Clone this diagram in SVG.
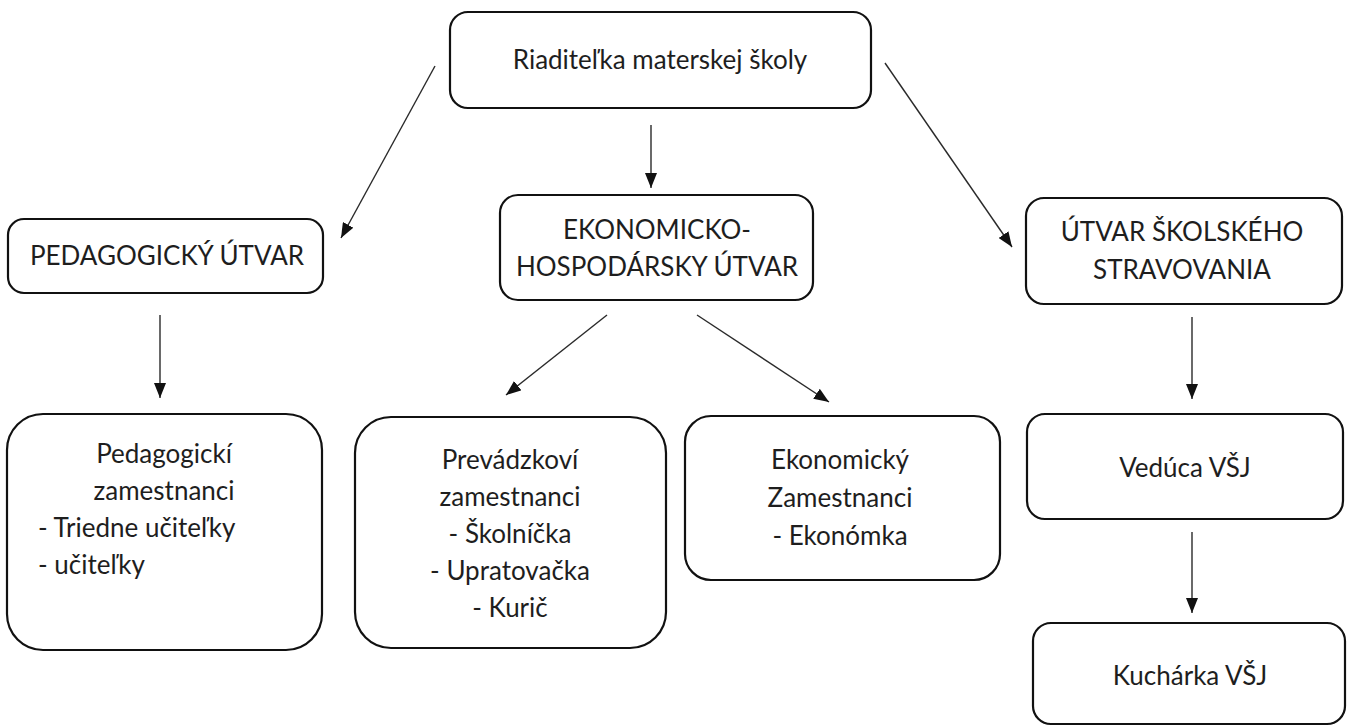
<svg xmlns="http://www.w3.org/2000/svg" width="1353" height="727" viewBox="0 0 1353 727">
<style>
.box{fill:#fff;stroke:#111;stroke-width:2.2}
.t{font-family:Lato,"Liberation Sans",sans-serif;font-size:26px;fill:#1e1e1e}
.m{text-anchor:middle}
.c{stroke:#2a2a2a;stroke-width:1.4;fill:none;marker-end:url(#ah)}
</style>
<defs>
<marker id="ah" markerUnits="userSpaceOnUse" markerWidth="16" markerHeight="12" refX="15" refY="6" orient="auto">
<path d="M0,0 L15,6 L0,12 Z" fill="#111"/>
</marker>
</defs>
<rect width="1353" height="727" fill="#fff"/>
<g id="connectors">
<line class="c" x1="651" y1="125" x2="651" y2="188"/>
<line class="c" x1="435" y1="66" x2="341" y2="238"/>
<line class="c" x1="885" y1="63" x2="1012" y2="247"/>
<line class="c" x1="160" y1="315" x2="160" y2="398"/>
<line class="c" x1="607" y1="315" x2="506" y2="395"/>
<line class="c" x1="697" y1="315" x2="829" y2="402"/>
<line class="c" x1="1192" y1="317" x2="1192" y2="399"/>
<line class="c" x1="1192" y1="532" x2="1192" y2="613"/>
</g>
<g id="n-riaditelka">
<rect class="box" x="450" y="12" width="421" height="96" rx="18"/>
<text class="t m" x="660" y="69">Riaditeľka materskej školy</text>
</g>
<g id="n-pedagogicky-utvar">
<rect class="box" x="8" y="219" width="315" height="74" rx="16"/>
<text class="t m" x="167" y="265">PEDAGOGICKÝ ÚTVAR</text>
</g>
<g id="n-ekonomicko">
<rect class="box" x="500" y="195" width="313" height="105" rx="18"/>
<text class="t m" x="657" y="239">EKONOMICKO-</text>
<text class="t m" x="657" y="276">HOSPODÁRSKY ÚTVAR</text>
</g>
<g id="n-utvar-stravovania">
<rect class="box" x="1026" y="198" width="316" height="106" rx="18"/>
<text class="t m" x="1182" y="241">ÚTVAR ŠKOLSKÉHO</text>
<text class="t m" x="1182" y="279">STRAVOVANIA</text>
</g>
<g id="n-pedagogicki-zamestnanci">
<rect class="box" x="7" y="414" width="315" height="236" rx="36"/>
<text class="t m" x="164" y="463">Pedagogickí</text>
<text class="t m" x="164" y="500">zamestnanci</text>
<text class="t" x="38" y="537">- Triedne učiteľky</text>
<text class="t" x="38" y="574">- učiteľky</text>
</g>
<g id="n-prevadzkovi">
<rect class="box" x="355" y="417" width="311" height="231" rx="36"/>
<text class="t m" x="510" y="469">Prevádzkoví</text>
<text class="t m" x="510" y="506">zamestnanci</text>
<text class="t m" x="510" y="543">- Školníčka</text>
<text class="t m" x="510" y="580">- Upratovačka</text>
<text class="t m" x="510" y="617">- Kurič</text>
</g>
<g id="n-ekonomicky">
<rect class="box" x="685" y="416" width="315" height="164" rx="26"/>
<text class="t m" x="840" y="469">Ekonomický</text>
<text class="t m" x="840" y="507">Zamestnanci</text>
<text class="t m" x="840" y="545">- Ekonómka</text>
</g>
<g id="n-veduca">
<rect class="box" x="1027" y="414" width="316" height="105" rx="18"/>
<text class="t m" x="1185" y="477">Vedúca VŠJ</text>
</g>
<g id="n-kucharka">
<rect class="box" x="1033" y="623" width="312" height="101" rx="18"/>
<text class="t m" x="1190" y="685">Kuchárka VŠJ</text>
</g>
</svg>
